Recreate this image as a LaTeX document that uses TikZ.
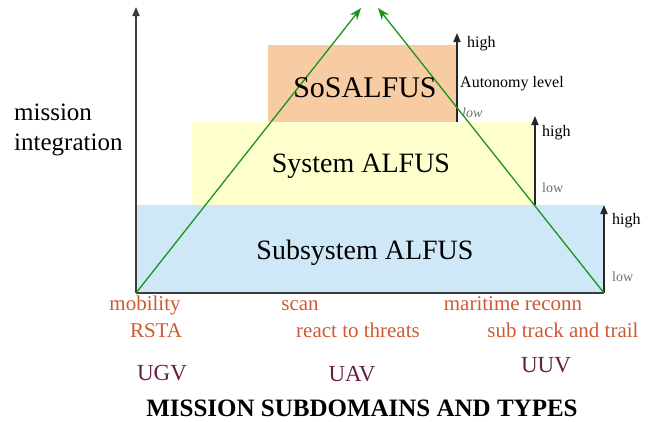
\documentclass[tikz,border=0pt]{standalone}
\usepackage{fontspec}
\setmainfont{Liberation Serif}
\usetikzlibrary{arrows.meta}
\definecolor{bluefill}{RGB}{206,232,248}
\definecolor{yellowfill}{RGB}{255,255,206}
\definecolor{orangefill}{RGB}{247,204,162}
\definecolor{axisgray}{RGB}{60,60,60}
\definecolor{greenline}{RGB}{25,150,25}
\definecolor{tasktext}{RGB}{205,90,50}
\definecolor{typetext}{RGB}{105,30,70}
\definecolor{lowgray}{RGB}{110,110,110}
\tikzset{
  axisline/.style={draw=axisgray, line width=1.8pt, -{Triangle[length=9pt,width=7pt]}},
  levelarrow/.style={draw=black!85, line width=1.8pt, -{Triangle[length=9pt,width=7pt]}},
  greenarrow/.style={draw=greenline, line width=1.3pt, -{Stealth[length=12pt,width=9pt]}},
  lbl/.style={inner sep=0pt, anchor=base},
  lblw/.style={inner sep=0pt, anchor=base west},
  hightext/.style={lblw, font=\fontsize{16}{18}\selectfont},
  lowtext/.style={lblw, text=lowgray, font=\fontsize{14}{16}\selectfont},
  tasklbl/.style={lbl, text=tasktext, font=\fontsize{21}{24}\selectfont},
  typelbl/.style={lbl, text=typetext, font=\fontsize{23}{26}\selectfont},
  levellbl/.style={lbl, font=\fontsize{28}{32}\selectfont},
}
\begin{document}
\begin{tikzpicture}[x=1pt,y=-1pt]
\useasboundingbox (0,0) rectangle (654,421);
% level boxes
\fill[bluefill] (136,205) rectangle (604,293);
\fill[yellowfill] (192,122) rectangle (535,205);
\fill[orangefill] (268,45) rectangle (457,122);
% coordinates
\coordinate (O) at (136,293);
\coordinate (Ytop) at (136,7);
\coordinate (R) at (604,293);
\coordinate (Rtop) at (604,205);
\coordinate (M) at (535,205);
\coordinate (Mtop) at (535,116);
\coordinate (T) at (457,122);
\coordinate (Ttop) at (457,33);
\coordinate (ApexL) at (361,8);
\coordinate (ApexR) at (378,8);
% base line and axes
\draw[axisgray, line width=1.8pt] (O) -- (R);
\draw[axisline] (O) -- (Ytop);
\draw[levelarrow] (R) -- (Rtop);
\draw[levelarrow] (M) -- (Mtop);
\draw[levelarrow] (T) -- (Ttop);
% green arrows
\draw[greenarrow] (O) -- (ApexL);
\draw[greenarrow] (R) -- (ApexR);
% texts
\node[lblw, align=left, font=\fontsize{25}{30}\selectfont, anchor=north west] (mi) at (14,104) {mission\\integration};
\node[lbl, font=\fontsize{30}{34}\selectfont] (sos) at (365,97) {SoSALFUS};
\node[levellbl] (sys) at (361,172) {System ALFUS};
\node[levellbl] (sub) at (365,259) {Subsystem ALFUS};
\node[hightext] (h1) at (467,47) {high};
\node[hightext] (al) at (460,87) {Autonomy level};
\node[lowtext, font=\fontsize{14}{16}\selectfont\itshape] (l1) at (462,117) {low};
\node[hightext] (h2) at (542,136) {high};
\node[lowtext] (l2) at (542,192) {low};
\node[hightext] (h3) at (612,224) {high};
\node[lowtext] (l3) at (612,281) {low};
\node[tasklbl] (mob) at (145,310) {mobility};
\node[tasklbl] (rsta) at (156,337) {RSTA};
\node[tasklbl] (scan) at (300,310) {scan};
\node[tasklbl] (react) at (358,337) {react to threats};
\node[tasklbl] (mar) at (513,310) {maritime reconn};
\node[tasklbl] (subt) at (563,337) {sub track and trail};
\node[typelbl] (ugv) at (162,380) {UGV};
\node[typelbl] (uav) at (352,381) {UAV};
\node[typelbl] (uuv) at (546,372) {UUV};
\node[lbl, font=\fontsize{25}{28}\selectfont\bfseries] (title) at (362,416) {MISSION SUBDOMAINS AND TYPES};
\end{tikzpicture}
\end{document}
